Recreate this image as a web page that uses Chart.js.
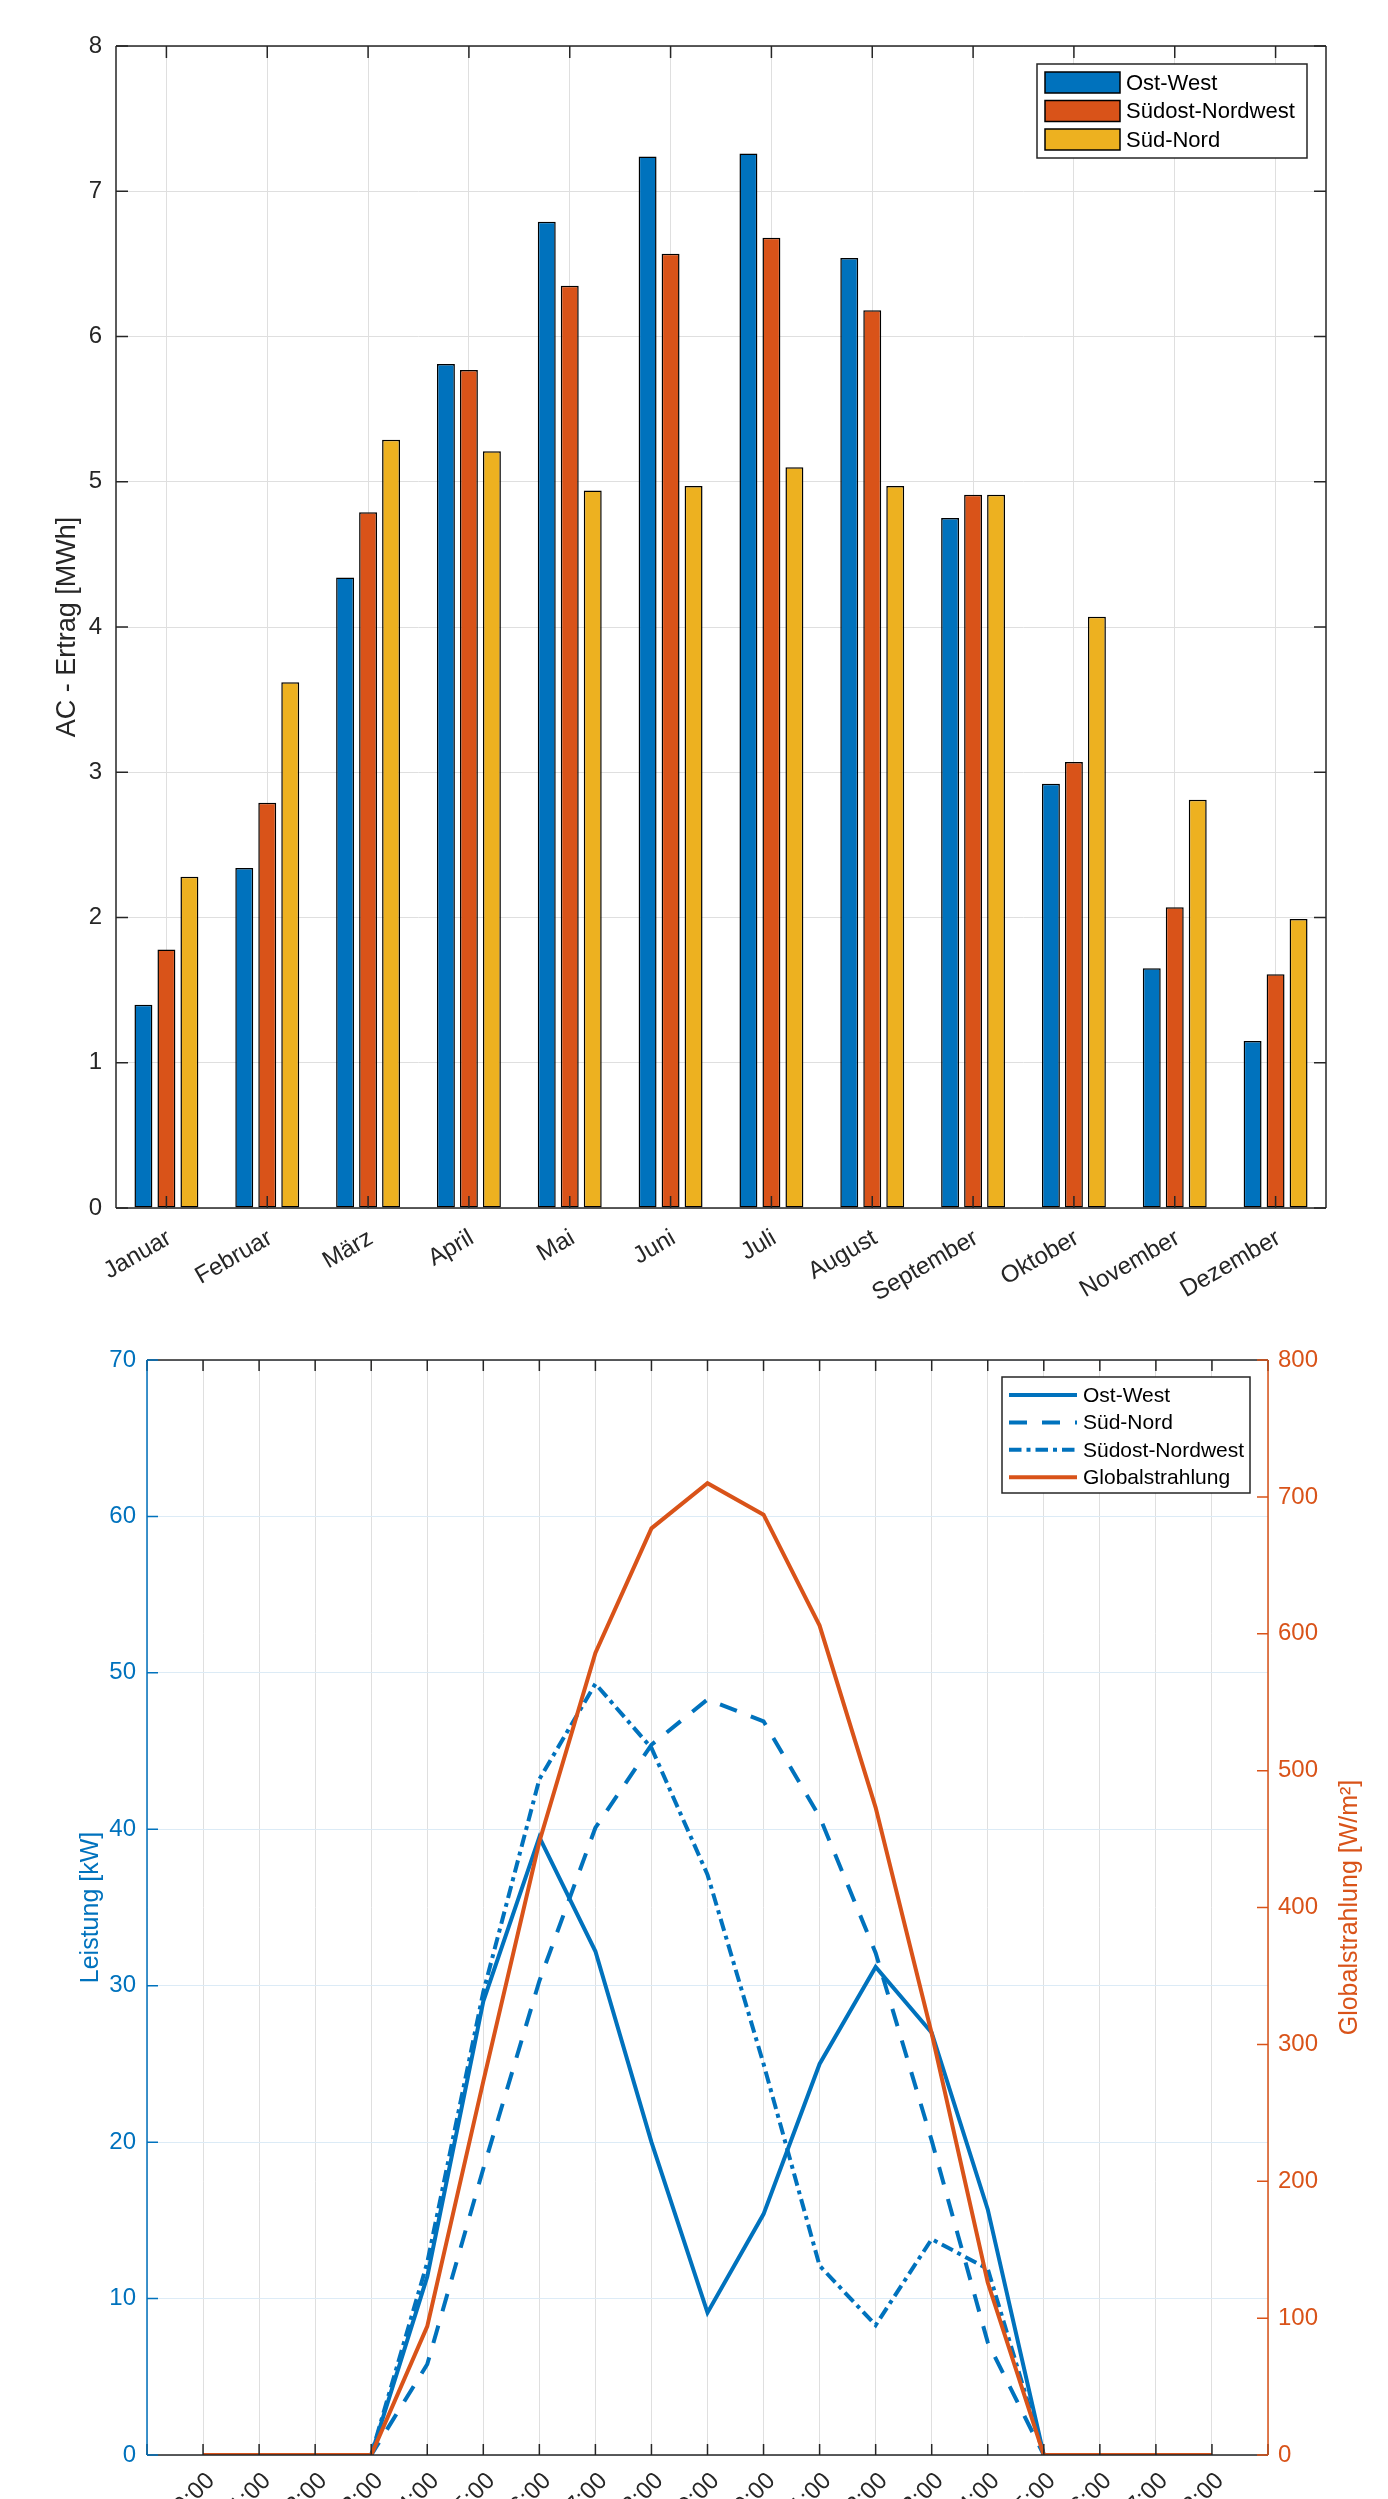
<!DOCTYPE html>
<html lang="de">
<head>
    <meta charset="UTF-8">
    <title>AC-Ertrag und Tagesverlauf</title>
    <script src="https://cdn.jsdelivr.net/npm/chart.js@4.4.1/dist/chart.umd.min.js"></script>
    <style>
        body {
            margin: 0;
            padding: 0;
            background: #fff;
            width: 1388px;
            height: 2499px;
            overflow: hidden;
            position: relative;
        }
        #wrapTop {
            position: absolute;
            left: 0;
            top: 0;
            width: 1388px;
            height: 1300px;
        }
        #wrapBottom {
            position: absolute;
            left: 0;
            top: 1300px;
            width: 1388px;
            height: 1199px;
            overflow: hidden; /* Beschriftung unten abgeschnitten wie im Original */
        }
    </style>
</head>
<body>
    <div id="wrapTop"><canvas id="ertragChart" width="1388" height="1300"></canvas></div>
    <div id="wrapBottom"><canvas id="tagChart" width="1388" height="1199"></canvas></div>

    <script>
        // Monatlicher AC-Ertrag [MWh]
        const monate = ['Januar', 'Februar', 'März', 'April', 'Mai', 'Juni', 'Juli', 'August', 'September', 'Oktober', 'November', 'Dezember'];
        const ertragOstWest = [1.40, 2.34, 4.34, 5.81, 6.79, 7.24, 7.26, 6.54, 4.75, 2.92, 1.65, 1.15];
        const ertragSuedostNordwest = [1.78, 2.79, 4.79, 5.77, 6.35, 6.57, 6.68, 6.18, 4.91, 3.07, 2.07, 1.61];
        const ertragSuedNord = [2.28, 3.62, 5.29, 5.21, 4.94, 4.97, 5.10, 4.97, 4.91, 4.07, 2.81, 1.99];

        // Tagesverlauf (Leistung [kW], Globalstrahlung [W/m²])
        const uhrzeiten = ['00:00', '01:00', '02:00', '03:00', '04:00', '05:00', '06:00', '07:00', '08:00', '09:00',
                           '10:00', '11:00', '12:00', '13:00', '14:00', '15:00', '16:00', '17:00', '18:00'];
        const leistungOstWest = [0, 0, 0, 0, 11.4, 29.0, 39.5, 32.2, 20.0, 9.1, 15.4, 25.0, 31.2, 27.0, 15.7, 0, 0, 0, 0];
        const leistungSuedNord = [0, 0, 0, 0, 5.8, 18.3, 30.3, 40.1, 45.4, 48.3, 46.9, 40.8, 32.1, 20.1, 7.2, 0, 0, 0, 0];
        const leistungSuedostNordwest = [0, 0, 0, 0, 12.3, 29.6, 43.2, 49.3, 45.2, 37.1, 25.0, 12.1, 8.3, 13.8, 11.9, 0, 0, 0, 0];
        const globalstrahlung = [0, 0, 0, 0, 94, 273, 448, 586, 677, 710, 687, 606, 473, 308, 126, 0, 0, 0, 0];

        const BLAU = '#0072BD';
        const ROT = '#D95319';
        const GELB = '#EDB120';
        const ACHSE = '#262626';
        const SCHRIFT = "'Liberation Sans', Arial, Helvetica, sans-serif";

        // Rahmen, nach innen zeigende Ticks (wie MATLAB) und rechter Achsentitel
        const matlabAchsen = {
            id: 'matlabAchsen',
            afterDatasetsDraw(chart, args, opts) {
                const { ctx, chartArea: a } = chart;
                const len = opts.tickLength;
                ctx.save();
                ctx.lineWidth = opts.lineWidth;
                opts.seiten.forEach(s => {
                    const sc = chart.scales[s.scale];
                    ctx.strokeStyle = s.color;
                    ctx.beginPath();
                    sc.ticks.forEach((t, i) => {
                        const p = sc.getPixelForTick(i);
                        if (s.side === 'bottom') { ctx.moveTo(p, a.bottom); ctx.lineTo(p, a.bottom - len); }
                        if (s.side === 'top') { ctx.moveTo(p, a.top); ctx.lineTo(p, a.top + len); }
                        if (s.side === 'left') { ctx.moveTo(a.left, p); ctx.lineTo(a.left + len, p); }
                        if (s.side === 'right') { ctx.moveTo(a.right, p); ctx.lineTo(a.right - len, p); }
                    });
                    // Achsenlinie
                    if (s.side === 'bottom') { ctx.moveTo(a.left, a.bottom); ctx.lineTo(a.right, a.bottom); }
                    if (s.side === 'top') { ctx.moveTo(a.left, a.top); ctx.lineTo(a.right, a.top); }
                    if (s.side === 'left') { ctx.moveTo(a.left, a.top); ctx.lineTo(a.left, a.bottom); }
                    if (s.side === 'right') { ctx.moveTo(a.right, a.top); ctx.lineTo(a.right, a.bottom); }
                    ctx.stroke();
                });
                if (opts.rechterTitel) {
                    const t = opts.rechterTitel;
                    ctx.translate(t.x, (a.top + a.bottom) / 2);
                    ctx.rotate(-Math.PI / 2);
                    ctx.fillStyle = t.color;
                    ctx.font = t.font;
                    ctx.textAlign = 'center';
                    ctx.textBaseline = 'middle';
                    ctx.fillText(t.text, 0, 0);
                }
                ctx.restore();
            }
        };

        // Legende mit Rahmen innerhalb der Achsen (oben rechts)
        const legendeBox = {
            id: 'legendeBox',
            afterDraw(chart, args, o) {
                const { ctx, chartArea: a } = chart;
                const x = a.right - o.right - o.width;
                const y = a.top + o.top;
                ctx.save();
                ctx.fillStyle = '#fff';
                ctx.fillRect(x, y, o.width, o.height);
                ctx.strokeStyle = ACHSE;
                ctx.lineWidth = 1.5;
                ctx.strokeRect(x, y, o.width, o.height);
                ctx.font = o.font;
                ctx.textBaseline = 'middle';
                o.items.forEach((idx, r) => {
                    const ds = chart.data.datasets[idx];
                    const cy = y + o.firstRow + r * o.rowGap;
                    if (o.type === 'bar') {
                        ctx.fillStyle = ds.backgroundColor;
                        ctx.fillRect(x + o.swatchX, cy - o.swatchH / 2, o.swatchW, o.swatchH);
                        ctx.strokeStyle = '#000';
                        ctx.lineWidth = 1.5;
                        ctx.setLineDash([]);
                        ctx.strokeRect(x + o.swatchX, cy - o.swatchH / 2, o.swatchW, o.swatchH);
                    } else {
                        ctx.strokeStyle = ds.borderColor;
                        ctx.lineWidth = ds.borderWidth;
                        ctx.setLineDash(ds.borderDash || []);
                        ctx.beginPath();
                        ctx.moveTo(x + o.swatchX, cy);
                        ctx.lineTo(x + o.swatchX + o.swatchW, cy);
                        ctx.stroke();
                        ctx.setLineDash([]);
                    }
                    ctx.fillStyle = '#000';
                    ctx.fillText(ds.label, x + o.textX, cy + 1);
                });
                ctx.restore();
            }
        };

        // ---------- Diagramm 1: monatlicher Ertrag ----------
        function balken(label, werte, farbe) {
            return {
                label: label,
                data: werte,
                backgroundColor: farbe,
                borderColor: '#000',
                borderWidth: 1.5,
                borderSkipped: false,
                categoryPercentage: 0.684,
                barPercentage: 0.78
            };
        }

        new Chart(document.getElementById('ertragChart'), {
            type: 'bar',
            data: {
                labels: monate,
                datasets: [
                    balken('Ost-West', ertragOstWest, BLAU),
                    balken('Südost-Nordwest', ertragSuedostNordwest, ROT),
                    balken('Süd-Nord', ertragSuedNord, GELB)
                ]
            },
            options: {
                responsive: false,
                animation: false,
                events: [],
                layout: { padding: { left: 0, right: 62, top: 46, bottom: 0 } },
                scales: {
                    x: {
                        grid: { offset: false, color: '#dfdfdf', lineWidth: 1, drawTicks: false },
                        border: { display: false },
                        ticks: {
                            autoSkip: false, minRotation: 30, maxRotation: 30, padding: 16, labelOffset: 3,
                            color: ACHSE, font: { size: 24, family: SCHRIFT }
                        },
                        afterFit(s) { s.height = 92; s.paddingLeft = 0; s.paddingRight = 0; }
                    },
                    y: {
                        min: 0,
                        max: 8,
                        grid: { color: '#dfdfdf', lineWidth: 1, drawTicks: false },
                        border: { display: false },
                        ticks: { stepSize: 1, padding: 14, color: ACHSE, font: { size: 24, family: SCHRIFT } },
                        title: {
                            display: true, text: 'AC - Ertrag [MWh]', color: ACHSE,
                            font: { size: 27, family: SCHRIFT }, padding: { top: 51, bottom: 0 }
                        },
                        afterFit(s) { s.width = 116; s.paddingTop = 0; s.paddingBottom = 0; }
                    }
                },
                plugins: {
                    legend: { display: false },
                    tooltip: { enabled: false },
                    matlabAchsen: {
                        tickLength: 12, lineWidth: 1.5,
                        seiten: [
                            { scale: 'x', side: 'bottom', color: ACHSE },
                            { scale: 'x', side: 'top', color: ACHSE },
                            { scale: 'y', side: 'left', color: ACHSE },
                            { scale: 'y', side: 'right', color: ACHSE }
                        ]
                    },
                    legendeBox: {
                        type: 'bar', items: [0, 1, 2],
                        right: 19, top: 18, width: 270, height: 94,
                        firstRow: 18.5, rowGap: 28.5,
                        swatchX: 8, swatchW: 75, swatchH: 21, textX: 89,
                        font: '22px ' + SCHRIFT
                    }
                }
            },
            plugins: [matlabAchsen, legendeBox]
        });

        // ---------- Diagramm 2: Tagesverlauf ----------
        function verlauf(werte) {
            return werte.map((v, i) => ({ x: i + 1, y: v }));
        }

        new Chart(document.getElementById('tagChart'), {
            type: 'line',
            data: {
                datasets: [
                    { label: 'Ost-West', data: verlauf(leistungOstWest), yAxisID: 'y', borderColor: BLAU, borderWidth: 4, borderDash: [], order: 1 },
                    { label: 'Süd-Nord', data: verlauf(leistungSuedNord), yAxisID: 'y', borderColor: BLAU, borderWidth: 4, borderDash: [18, 15], order: 1 },
                    { label: 'Südost-Nordwest', data: verlauf(leistungSuedostNordwest), yAxisID: 'y', borderColor: BLAU, borderWidth: 4, borderDash: [12.5, 5, 4, 5], order: 1 },
                    { label: 'Globalstrahlung', data: verlauf(globalstrahlung), yAxisID: 'y1', borderColor: ROT, borderWidth: 4, borderDash: [], order: 0 }
                ]
            },
            options: {
                responsive: false,
                animation: false,
                events: [],
                elements: { point: { radius: 0 }, line: { tension: 0, fill: false } },
                layout: { padding: { left: 0, right: 0, top: 60, bottom: 0 } },
                scales: {
                    x: {
                        type: 'linear',
                        min: 0,
                        max: 20,
                        grid: { color: '#dfdfdf', lineWidth: 1, drawTicks: false },
                        border: { display: false },
                        ticks: {
                            stepSize: 1, autoSkip: false, minRotation: 45, maxRotation: 45, padding: 12, labelOffset: 8,
                            color: ACHSE, font: { size: 24, family: SCHRIFT },
                            callback: v => (v >= 1 && v <= uhrzeiten.length) ? uhrzeiten[v - 1] : ''
                        },
                        afterFit(s) { s.height = 44; s.paddingLeft = 0; s.paddingRight = 0; }
                    },
                    y: {
                        position: 'left',
                        min: 0,
                        max: 70,
                        grid: { color: 'rgb(220,235,246)', lineWidth: 1, drawTicks: false },
                        border: { display: false },
                        ticks: { stepSize: 10, padding: 11, color: BLAU, font: { size: 24, family: SCHRIFT } },
                        title: {
                            display: true, text: 'Leistung [kW]', color: BLAU,
                            font: { size: 25, family: SCHRIFT }, padding: { top: 76, bottom: 0 }
                        },
                        afterFit(s) { s.width = 147; s.paddingTop = 0; s.paddingBottom = 0; }
                    },
                    y1: {
                        position: 'right',
                        min: 0,
                        max: 800,
                        grid: { display: false, drawTicks: false },
                        border: { display: false },
                        ticks: { stepSize: 100, padding: 10, color: ROT, font: { size: 24, family: SCHRIFT } },
                        afterFit(s) { s.width = 120; s.paddingTop = 0; s.paddingBottom = 0; }
                    }
                },
                plugins: {
                    legend: { display: false },
                    tooltip: { enabled: false },
                    matlabAchsen: {
                        tickLength: 11, lineWidth: 1.5,
                        seiten: [
                            { scale: 'x', side: 'bottom', color: ACHSE },
                            { scale: 'x', side: 'top', color: ACHSE },
                            { scale: 'y', side: 'left', color: BLAU },
                            { scale: 'y1', side: 'right', color: ROT }
                        ],
                        rechterTitel: { text: 'Globalstrahlung [W/m²]', color: ROT, font: '25px ' + SCHRIFT, x: 1350 }
                    },
                    legendeBox: {
                        type: 'line', items: [0, 1, 2, 3],
                        right: 18, top: 17, width: 248, height: 116,
                        firstRow: 18, rowGap: 27.4,
                        swatchX: 7, swatchW: 68, textX: 81,
                        font: '21px ' + SCHRIFT
                    }
                }
            },
            plugins: [matlabAchsen, legendeBox]
        });
    </script>
</body>
</html>
